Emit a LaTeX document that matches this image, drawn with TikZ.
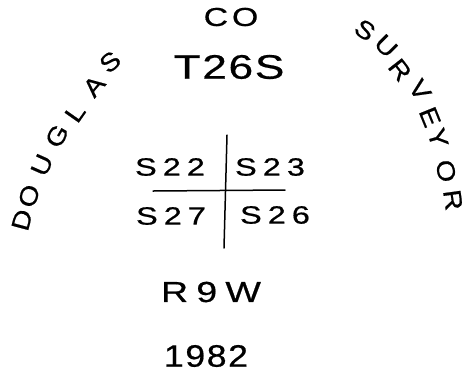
\documentclass[tikz,border=0pt]{standalone}
\usepackage{fontspec}
\setmainfont{Liberation Sans}[FakeBold=0.6]
\usepackage{tikz}
\usetikzlibrary{positioning}

\begin{document}
\begin{tikzpicture}[x=1pt, y=-1pt,
  hand/.style={inner sep=0pt, text=black},
  big/.style={hand, font=\fontsize{34}{34}\selectfont\addfontfeature{FakeStretch=1.3, LetterSpace=5}},
  mid/.style={hand, font=\fontsize{26}{26}\selectfont\addfontfeature{FakeStretch=1.3, LetterSpace=15}},
  sec/.style={hand, font=\fontsize{25}{25}\selectfont\addfontfeature{FakeStretch=1.3, LetterSpace=24}},
  arcletter/.style={hand, font=\fontsize{25}{25}\selectfont\addfontfeature{FakeStretch=1.15}},
  pen/.style={line width=1.5pt, line cap=round}
]
  \useasboundingbox (0,0) rectangle (466,373);

  % Top texts
  \node[mid] (county) at (231,17) {CO};
  \node[big] (town) at (229,67) {T26S};

  % Section cross
  \coordinate (vtop) at (227,135);
  \coordinate (vbot) at (224,248);
  \coordinate (hleft) at (153,191);
  \coordinate (hright) at (285,190);
  \draw[pen] (vtop) -- (vbot);
  \draw[pen] (hleft) -- (hright);

  \node[sec] (s22) at (170,167) {S22};
  \node[sec] (s23) at (270,167) {S23};
  \node[sec] (s27) at (171,216) {S27};
  \node[sec] (s26) at (275,215) {S26};

  % Range and year
  \node[hand, font=\fontsize{29}{29}\selectfont\addfontfeature{FakeStretch=1.3, LetterSpace=28}] (range) at (211,292) {R9W};
  \node[hand, font=\fontsize{31}{31}\selectfont\addfontfeature{FakeStretch=1.15, LetterSpace=5}] (year) at (206,356) {1982};

  % Arcs
  \foreach \ch/\px/\py/\rot [count=\i] in {D/22/220/75, O/29/196/72, U/42/165/66,
      G/57/136/60, L/75/113/55, A/94/86/50, S/110/62/40}
    \node[arcletter, rotate=\rot] (dg\i) at (\px,\py) {\ch};
  \foreach \ch/\px/\py/\rot [count=\i] in {S/365/30/-35, U/386/46/-45, R/400/70/-52,
      V/420/90/-57, E/430/117/-68, Y/438/138/-74, O/446/171/-78, R/453/200/-82}
    \node[arcletter, rotate=\rot] (sv\i) at (\px,\py) {\ch};
\end{tikzpicture}
\end{document}
